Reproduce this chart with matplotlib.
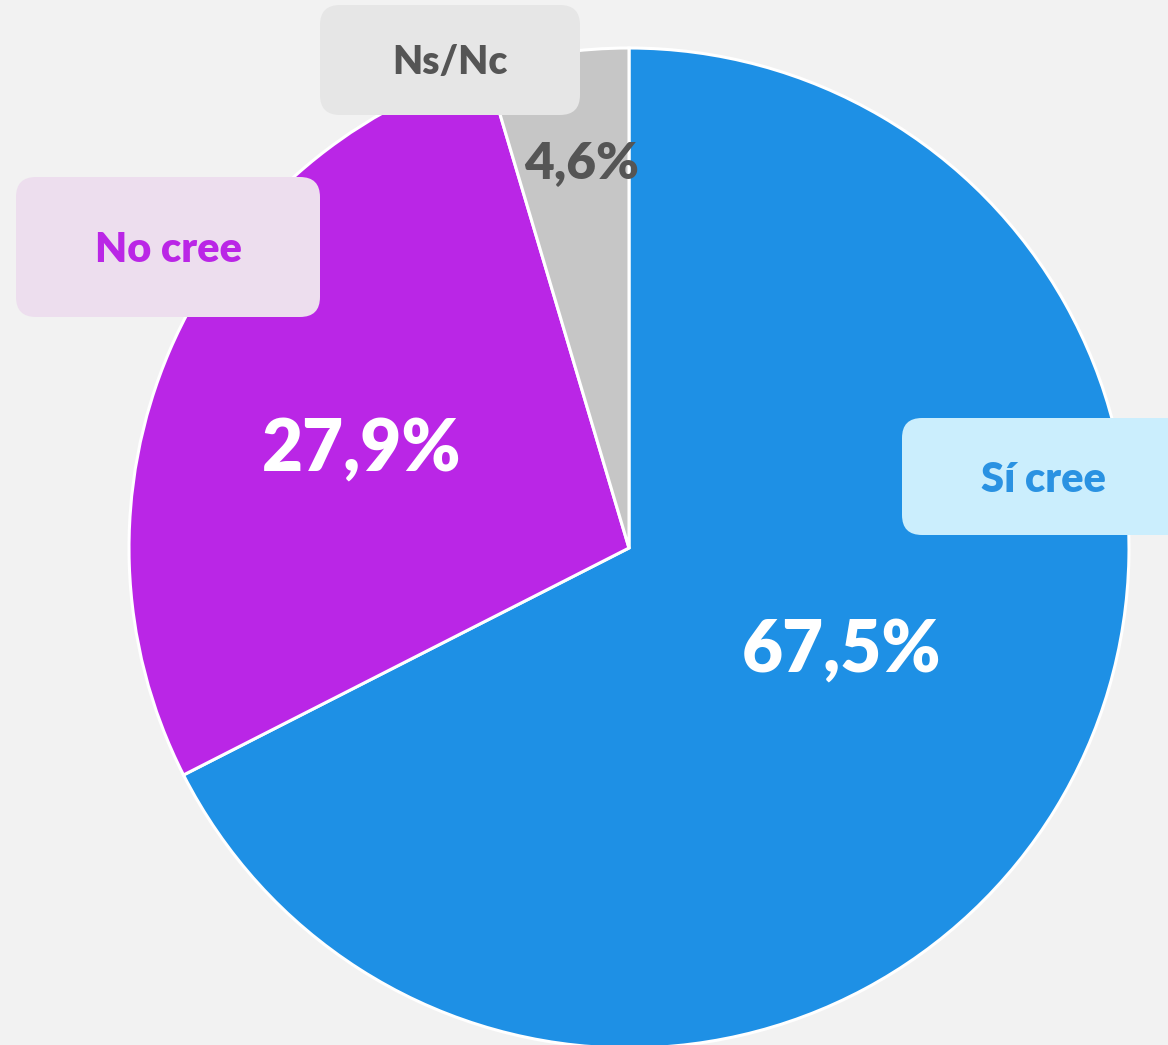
import matplotlib.pyplot as plt
from matplotlib.patches import FancyBboxPatch

# data
categories = ['Sí cree', 'No cree', 'Ns/Nc']
values = [67.5, 27.9, 4.6]
pct_labels = ['67,5%', '27,9%', '4,6%']

slice_colors = ['#1E90E5', '#BA26E6', '#C6C6C6']
pct_colors = ['white', 'white', '#555555']
box_colors = ['#CBEEFD', '#EDDEEE', '#E6E6E6']
box_text_colors = ['#2A92E2', '#BA26E6', '#555555']

W, H = 1168, 1045

plt.rcParams['font.family'] = ['Lato', 'DejaVu Sans']

fig = plt.figure(figsize=(W / 100, H / 100), dpi=100)
fig.patch.set_facecolor('#F2F2F2')
ax = fig.add_axes([0, 0, 1, 1])
ax.set_facecolor('#F2F2F2')

# pixel coords -> data (y flipped)
cx, cy, r = 629, H - 548, 500

wedges, _ = ax.pie(values, colors=slice_colors, startangle=90, counterclock=False,
                   center=(cx, cy), radius=r,
                   wedgeprops=dict(edgecolor='white', linewidth=2.2))

ax.set_xlim(0, W)
ax.set_ylim(0, H)
ax.set_aspect('equal')
ax.axis('off')

# percentage labels (pixel positions from the reference)
pct_pos = [(842, 651), (362, 450), (582, 163)]
pct_sizes = [51, 51, 37]
for (px, py), txt, col, fs in zip(pct_pos, pct_labels, pct_colors, pct_sizes):
    ax.text(px, H - py, txt, ha='center', va='center', color=col,
            fontsize=fs, fontweight='heavy', zorder=5)

# category label boxes: (x0, y0, x1, y1) in pixels
boxes = [(902, 418, 1190, 535), (16, 177, 320, 317), (320, 5, 580, 115)]
box_fs = [30, 30, 28]
for (x0, y0, x1, y1), txt, bc, tc, fs in zip(boxes, categories, box_colors, box_text_colors, box_fs):
    pad = 20
    patch = FancyBboxPatch((x0 + pad, H - y1 + pad), (x1 - x0) - 2 * pad, (y1 - y0) - 2 * pad,
                           boxstyle=f'round,pad={pad}', facecolor=bc, edgecolor='none', zorder=6)
    ax.add_patch(patch)
    tx = (x0 + x1) / 2 if x1 < W else 1043
    ax.text(tx, H - (y0 + y1) / 2 - 3, txt, ha='center', va='center', color=tc,
            fontsize=fs, fontweight='heavy', zorder=7)

fig.savefig('out.png', dpi=100, facecolor=fig.get_facecolor())
